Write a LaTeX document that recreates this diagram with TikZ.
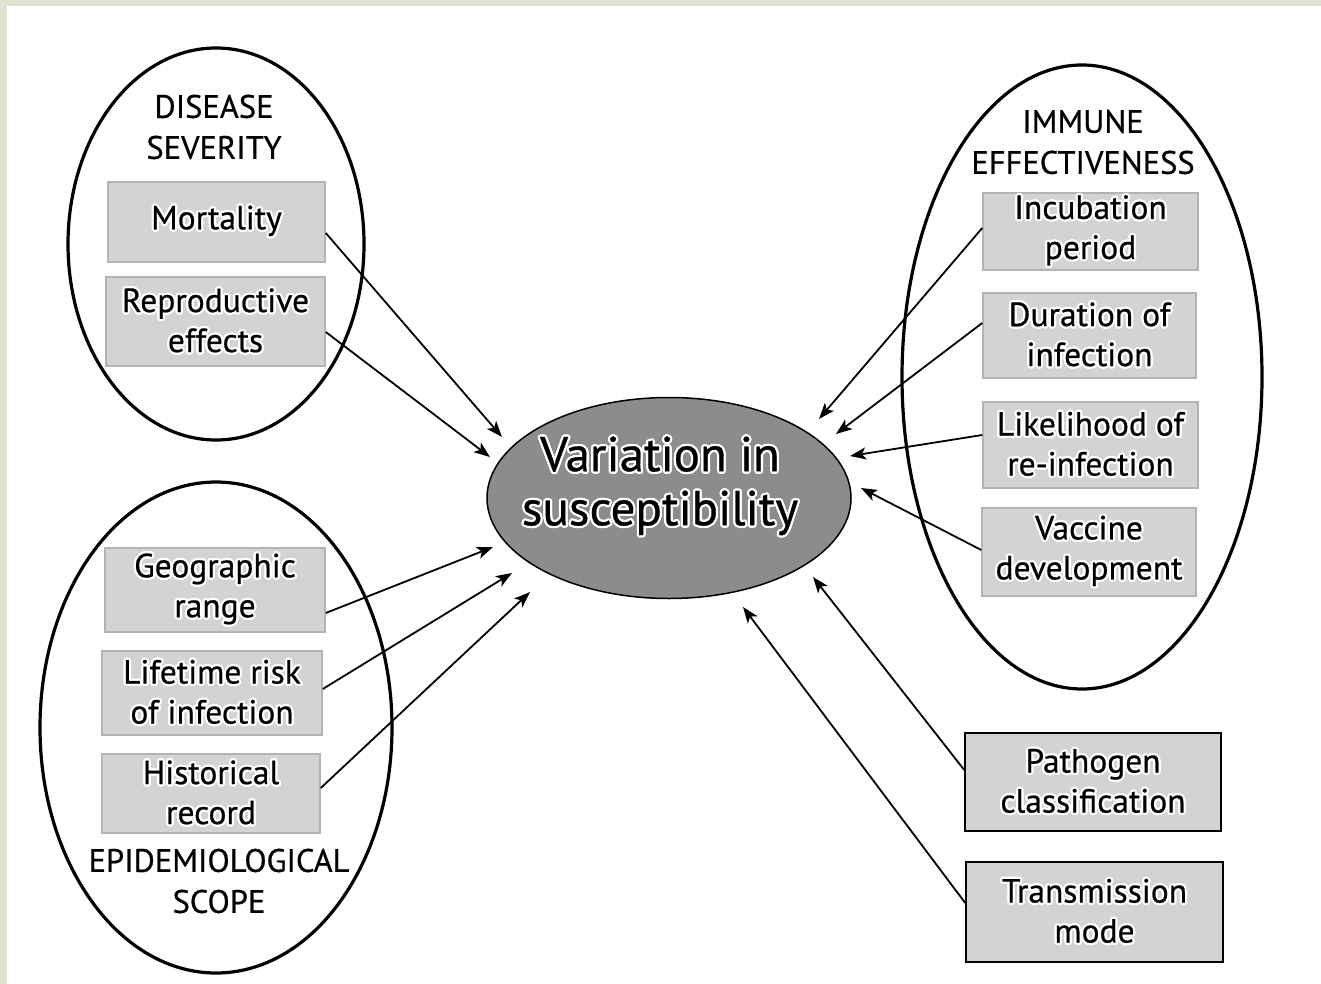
\documentclass[tikz,border=0pt]{standalone}
\usepackage{fontspec}
\setmainfont{PT Sans}[FakeBold=0.6]
\usepackage{contour}
\contourlength{2.2pt}
\contournumber{16}
\newcommand{\gl}[1]{\contour{white}{#1}}
\usetikzlibrary{shapes.geometric,arrows.meta,calc}
\definecolor{beige}{RGB}{224,225,207}
\definecolor{boxfill}{RGB}{211,211,211}
\definecolor{boxline}{RGB}{180,180,180}
\definecolor{centerfill}{RGB}{140,140,142}
\tikzset{
  group/.style={draw=black, line width=3.2pt, ellipse, minimum width=#1},
  itembox/.style={rectangle, fill=boxfill, draw=boxline, line width=1.5pt, align=center, inner sep=0pt, font=\fontsize{33.5}{40}\selectfont},
  darkbox/.style={itembox, draw=black},
  heading/.style={align=center, inner sep=0pt, font=\fontsize{32.5}{41}\selectfont},
  arr/.style={line width=1.8pt, -{Stealth[length=16pt,width=12pt,inset=4pt]}},
}
\begin{document}
\begin{tikzpicture}[x=1pt,y=-1pt]
\useasboundingbox (0,0) rectangle (1321,984);
\fill[beige] (0,0) rectangle (1321,984);
\fill[white] (7,6) rectangle (1321,984);

% group ellipses
\node[group=296pt, minimum height=392pt] (sev) at (216,244) {};
\node[group=352pt, minimum height=491pt] (epi) at (216,727.5) {};
\node[group=360pt, minimum height=624pt] (imm) at (1082,377) {};

% central
\node[ellipse, fill=centerfill, draw=black, line width=1.5pt, minimum width=364pt, minimum height=201pt, inner sep=0pt] (var) at (669,498) {};
\node[align=center, inner sep=0pt, font=\fontsize{49}{54}\selectfont] (vart) at (660,487) {\gl{Variation in}\\\gl{susceptibility}};

% headings
\node[heading] (sevh) at (214,127) {DISEASE\\SEVERITY};
\node[heading] (immh) at (1083,142) {IMMUNE\\EFFECTIVENESS};
\node[heading] (epih) at (219,881) {EPIDEMIOLOGICAL\\SCOPE};

% boxes
\node[itembox, minimum width=217pt, minimum height=80pt] (mort) at (216.5,222) {\gl{Mortality}};
\node[itembox, minimum width=219pt, minimum height=89pt] (repr) at (215.5,321.5) {\gl{Reproductive}\\\gl{effects}};
\node[itembox, minimum width=220pt, minimum height=84pt] (geo) at (215,590) {\gl{Geographic}\\\gl{range}};
\node[itembox, minimum width=220pt, minimum height=84pt] (life) at (212,693) {\gl{Lifetime risk}\\\gl{of infection}};
\node[itembox, minimum width=218pt, minimum height=79pt] (hist) at (211,793.5) {\gl{Historical}\\\gl{record}};
\node[itembox, minimum width=215pt, minimum height=77pt] (inc) at (1090.5,231.5) {\gl{Incubation}\\\gl{period}};
\node[itembox, minimum width=213pt, minimum height=85pt] (dur) at (1089.5,335.5) {\gl{Duration of}\\\gl{infection}};
\node[itembox, minimum width=215pt, minimum height=86pt] (like) at (1090.5,445) {\gl{Likelihood of}\\\gl{re-infection}};
\node[itembox, minimum width=214pt, minimum height=88pt] (vacc) at (1089,552) {\gl{Vaccine}\\\gl{development}};
\node[darkbox, minimum width=256pt, minimum height=98pt] (path) at (1093,782) {\gl{Pathogen}\\\gl{classification}};
\node[darkbox, minimum width=257pt, minimum height=100pt] (trans) at (1094.5,912) {\gl{Transmission}\\\gl{mode}};

% arrow tips (free ends near the central ellipse)
\coordinate (t1) at (502,437);
\coordinate (t2) at (490,457);
\coordinate (t3) at (493,547);
\coordinate (t4) at (512,573);
\coordinate (t5) at (530,592);
\coordinate (t6) at (819,419);
\coordinate (t7) at (836,434);
\coordinate (t8) at (850,456);
\coordinate (t9) at (861,488);
\coordinate (t10) at (813,577);
\coordinate (t11) at (743,607);

\draw[arr] ($(mort.east)+(0,11)$) -- (t1);
\draw[arr] ($(repr.east)+(0,10.5)$) -- (t2);
\draw[arr] ($(geo.east)+(0,23)$) -- (t3);
\draw[arr] ($(life.east)+(0,-4)$) -- (t4);
\draw[arr] ($(hist.east)+(0,-5.5)$) -- (t5);
\draw[arr] ($(inc.west)+(0,-3.5)$) -- (t6);
\draw[arr] ($(dur.west)+(0,-12.5)$) -- (t7);
\draw[arr] ($(like.west)+(0,-10)$) -- (t8);
\draw[arr] ($(vacc.west)+(0,-2)$) -- (t9);
\draw[arr] ($(path.west)+(0,-12)$) -- (t10);
\draw[arr] ($(trans.west)+(0,-9)$) -- (t11);
\end{tikzpicture}
\end{document}
